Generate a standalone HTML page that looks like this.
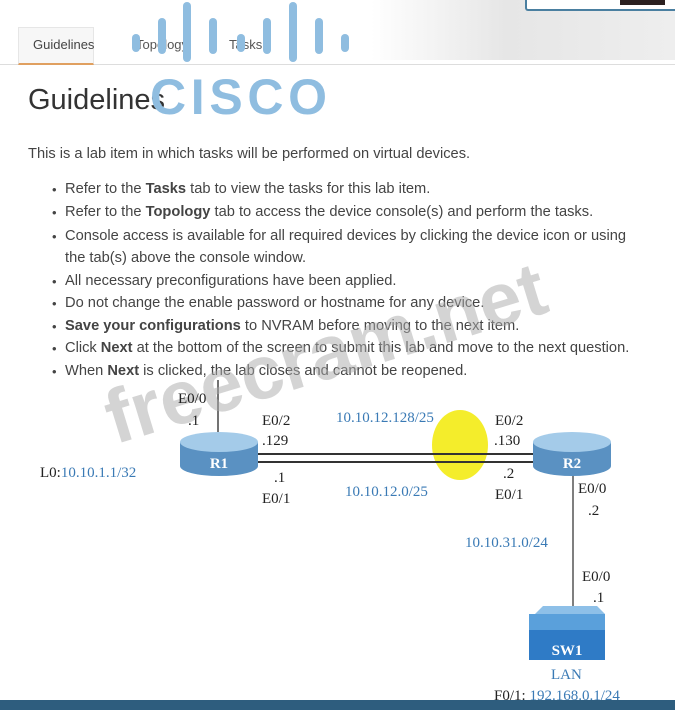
<!DOCTYPE html>
<html><head><meta charset="utf-8"><style>
body{margin:0;width:675px;height:710px;overflow:hidden;background:#fff;position:relative;font-family:"Liberation Sans",sans-serif;}
.a{position:absolute;white-space:nowrap}
.t{font-size:14.8px;color:#444;transform:scaleX(0.99);transform-origin:0 0}
.bul{position:absolute;left:52px;font-size:13px;color:#444}
.s{font-family:"Liberation Serif",serif;font-size:15px;color:#222;position:absolute;white-space:nowrap}
.b{color:#3a7ab5}
</style></head><body>
<div class="a" style="left:0;top:0;width:675px;height:60px;background:linear-gradient(90deg,#fff 0%,#fff 55%,#e6e6e6 75%,#eee 100%)"></div>
<div class="a" style="left:525px;top:0;width:150px;height:9px;background:#fff;border:2px solid #4a7fa0;border-top:none;border-radius:0 0 3px 3px"></div>
<div class="a" style="left:620px;top:0;width:45px;height:5px;background:#2b2020"></div>
<div class="a" style="left:0;top:64px;width:675px;height:1px;background:#ddd"></div>
<div class="a" style="left:18px;top:27px;width:74px;height:35px;background:#f7f7f7;border:1px solid #e6e6e6;border-bottom:2px solid #e0a060"></div>
<div class="a" style="left:33px;top:37px;font-size:13px;color:#444">Guidelines</div>
<div class="a" style="left:136px;top:37px;font-size:13px;color:#555">Topology</div>
<div class="a" style="left:229px;top:37px;font-size:13px;color:#555">Tasks</div>
<div class="a" style="left:28px;top:84px;font-size:29px;color:#333">Guidelines</div>
<svg class="a" style="left:0;top:0" width="675" height="130">
<g stroke="#8fbde0" stroke-width="8" stroke-linecap="round">
<line x1="136" y1="38" x2="136" y2="48"/><line x1="162" y1="22" x2="162" y2="50"/><line x1="187" y1="6" x2="187" y2="58"/>
<line x1="213" y1="22" x2="213" y2="50"/><line x1="241" y1="38" x2="241" y2="48"/><line x1="267" y1="22" x2="267" y2="50"/>
<line x1="293" y1="6" x2="293" y2="58"/><line x1="319" y1="22" x2="319" y2="50"/><line x1="345" y1="38" x2="345" y2="48"/>
</g>
<text x="150" y="114" font-family="Liberation Sans" font-weight="bold" font-size="50" fill="#8fbde0" letter-spacing="3" textLength="180">CISCO</text>
</svg>
<div class="a t" style="left:28px;top:146px">This is a lab item in which tasks will be performed on virtual devices.</div>
<div class="a t" style="left:65px;top:181px">Refer to the <b>Tasks</b> tab to view the tasks for this lab item.</div>
<div class="a t" style="left:65px;top:204px">Refer to the <b>Topology</b> tab to access the device console(s) and perform the tasks.</div>
<div class="a t" style="left:65px;top:228px">Console access is available for all required devices by clicking the device icon or using</div>
<div class="a t" style="left:65px;top:250px">the tab(s) above the console window.</div>
<div class="a t" style="left:65px;top:273px">All necessary preconfigurations have been applied.</div>
<div class="a t" style="left:65px;top:295px">Do not change the enable password or hostname for any device.</div>
<div class="a t" style="left:65px;top:318px"><b>Save your configurations</b> to NVRAM before moving to the next item.</div>
<div class="a t" style="left:65px;top:340px">Click <b>Next</b> at the bottom of the screen to submit this lab and move to the next question.</div>
<div class="a t" style="left:65px;top:363px">When <b>Next</b> is clicked, the lab closes and cannot be reopened.</div>
<div class="bul" style="top:182px">•</div><div class="bul" style="top:205px">•</div><div class="bul" style="top:229px">•</div>
<div class="bul" style="top:274px">•</div><div class="bul" style="top:296px">•</div><div class="bul" style="top:319px">•</div>
<div class="bul" style="top:341px">•</div><div class="bul" style="top:364px">•</div>
<svg class="a" style="left:0;top:0" width="675" height="710">
<line x1="218" y1="380" x2="218" y2="432" stroke="#444" stroke-width="1.5"/>
<line x1="573" y1="475" x2="573" y2="612" stroke="#555" stroke-width="1.5"/>
<ellipse cx="460" cy="445" rx="28" ry="35" fill="#f3ec20" opacity="0.95"/>
<line x1="255" y1="454" x2="535" y2="454" stroke="#333" stroke-width="2"/>
<line x1="255" y1="462" x2="535" y2="462" stroke="#333" stroke-width="2"/>
<g>
<path d="M180 442 v24 a39 10 0 0 0 78 0 v-24z" fill="#5a91c2"/>
<ellipse cx="219" cy="442" rx="39" ry="10" fill="#a4cbe9"/>
<text x="219" y="468" text-anchor="middle" font-family="Liberation Serif" font-weight="bold" font-size="15" fill="#fff">R1</text>
</g>
<g>
<path d="M533 442 v24 a39 10 0 0 0 78 0 v-24z" fill="#5a91c2"/>
<ellipse cx="572" cy="442" rx="39" ry="10" fill="#a4cbe9"/>
<text x="572" y="468" text-anchor="middle" font-family="Liberation Serif" font-weight="bold" font-size="15" fill="#fff">R2</text>
</g>
<path d="M535 614 h70 l-8 -8 h-54z" fill="#8ec0e8"/>
<rect x="529" y="614" width="76" height="46" fill="#5aa0db"/>
<rect x="529" y="630" width="76" height="30" fill="#2f7bc6"/>
<text x="567" y="655" text-anchor="middle" font-family="Liberation Serif" font-weight="bold" font-size="15" fill="#fff">SW1</text>
<text transform="rotate(-17 340 360)" font-family="Liberation Sans" font-weight="bold" font-size="76" fill="#aaa" opacity="0.5"><tspan x="100" y="375">freecram.net</tspan></text>
</svg>
<div class="s" style="left:178px;top:391px">E0/0</div>
<div class="s" style="left:188px;top:413px">.1</div>
<div class="s" style="left:262px;top:413px">E0/2</div>
<div class="s" style="left:262px;top:433px">.129</div>
<div class="s b" style="left:336px;top:410px">10.10.12.128/25</div>
<div class="s" style="left:495px;top:413px">E0/2</div>
<div class="s" style="left:494px;top:433px">.130</div>
<div class="s" style="left:40px;top:465px">L0:<span class="b">10.10.1.1/32</span></div>
<div class="s" style="left:274px;top:470px">.1</div>
<div class="s" style="left:262px;top:491px">E0/1</div>
<div class="s b" style="left:345px;top:484px">10.10.12.0/25</div>
<div class="s" style="left:503px;top:466px">.2</div>
<div class="s" style="left:495px;top:487px">E0/1</div>
<div class="s" style="left:578px;top:481px">E0/0</div>
<div class="s" style="left:588px;top:503px">.2</div>
<div class="s b" style="left:465px;top:535px">10.10.31.0/24</div>
<div class="s" style="left:582px;top:569px">E0/0</div>
<div class="s" style="left:593px;top:590px">.1</div>
<div class="s b" style="left:551px;top:667px">LAN</div>
<div class="s" style="left:494px;top:688px">F0/1: <span class="b">192.168.0.1/24</span></div>
<div class="a" style="left:0;top:700px;width:675px;height:10px;background:#2e5d7e"></div>
</body></html>
